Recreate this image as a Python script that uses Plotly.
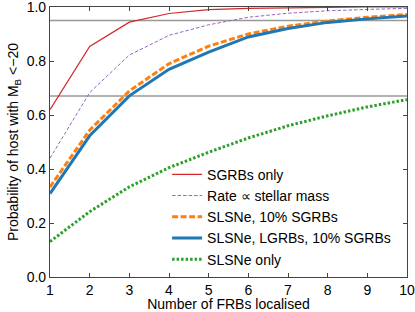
import plotly.graph_objects as go

n_frbs = [1, 2, 3, 4, 5, 6, 7, 8, 9, 10]
sgrbs_only = [0.620, 0.854, 0.944, 0.976, 0.990, 0.995, 0.997, 0.999, 1.000, 1.000]
stellar_mass = [0.440, 0.683, 0.822, 0.895, 0.934, 0.962, 0.977, 0.986, 0.991, 0.995]
slsne_10sgrb = [0.333, 0.544, 0.689, 0.790, 0.855, 0.900, 0.929, 0.948, 0.962, 0.972]
slsne_lgrb_10sgrb = [0.309, 0.523, 0.671, 0.769, 0.833, 0.889, 0.920, 0.943, 0.956, 0.967]
slsne_only = [0.131, 0.242, 0.334, 0.405, 0.462, 0.515, 0.560, 0.597, 0.630, 0.657]
ref_levels = [0.95, 0.67]

series = [
    ("SGRBs only", sgrbs_only, "#d62728", 1.2, "solid"),
    ("Rate \u221d stellar mass", stellar_mass, "#9467bd", 1.0, "3.5px,2px"),
    ("SLSNe, 10% SGRBs", slsne_10sgrb, "#ff7f0e", 3.0, "6px,2.5px"),
    ("SLSNe, LGRBs, 10% SGRBs", slsne_lgrb_10sgrb, "#1f77b4", 3.0, "solid"),
    ("SLSNe only", slsne_only, "#2ca02c", 3.0, "2.5px,2px"),
]

fig = go.Figure()
for lvl in ref_levels:
    fig.add_hline(y=lvl, line=dict(color="#999999", width=1.5), layer="below")

for name, vals, col, w, dash in series:
    fig.add_trace(go.Scatter(x=n_frbs, y=vals, mode="lines", name=name,
                             line=dict(color=col, width=w, dash=dash)))

font = "Liberation Sans, Arial, sans-serif"
axis_common = dict(showline=True, linecolor="#444444", linewidth=1.2, mirror="ticks",
                   ticks="inside", ticklen=4, tickcolor="#444444", showgrid=False,
                   zeroline=False, automargin=False, ticklabeloverflow="allow",
                   tickfont=dict(size=14, color="black", family=font))
fig.update_xaxes(range=[1, 10], dtick=1, tick0=1,
                 title=dict(text="Number of FRBs localised", font=dict(size=14, color="black", family=font), standoff=0),
                 **axis_common)
fig.update_yaxes(range=[0, 1], dtick=0.2, tickformat=".1f",
                 title=dict(text="Probability of host with M<sub>B</sub> <\u221220", font=dict(size=14, color="black", family=font), standoff=4),
                 **axis_common)

fig.update_layout(
    width=415, height=312,
    margin=dict(l=50, r=8, t=7, b=35),
    paper_bgcolor="white", plot_bgcolor="white",
    font=dict(family=font, color="black"),
    legend=dict(x=0.328, y=0.438, xanchor="left", yanchor="top",
                bgcolor="rgba(0,0,0,0)", borderwidth=0,
                font=dict(size=14, family=font, color="black"),
                tracegroupgap=0, itemwidth=30),
    showlegend=True,
)

fig.write_html("out.html", config={"displayModeBar": False},
               post_script="document.body.style.margin='0';")
